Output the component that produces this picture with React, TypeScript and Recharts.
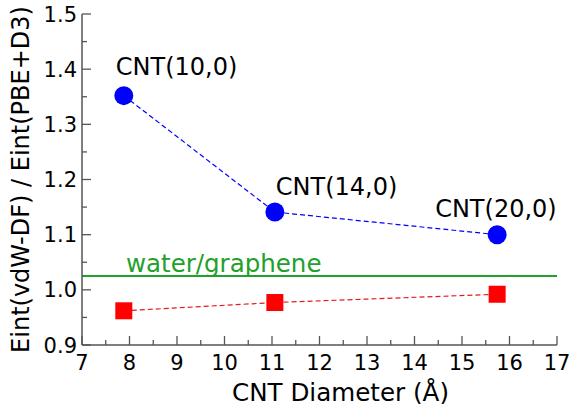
import { Line, LineChart, ReferenceLine, XAxis, YAxis } from 'recharts';

// CNT diameters (Å) and energy ratios
const diameters = [7.88, 11.06, 15.74];
const cntRatio = [1.352, 1.141, 1.1];
const refRatio = [0.962, 0.977, 0.992];
const cntNames = ['CNT(10,0)', 'CNT(14,0)', 'CNT(20,0)'];
const waterGraphene = 1.025;

const xTicks = [7, 7.5, 8, 8.5, 9, 9.5, 10, 10.5, 11, 11.5, 12, 12.5, 13, 13.5, 14, 14.5, 15, 15.5, 16, 16.5, 17];
const yTicks = [0.9, 0.95, 1.0, 1.05, 1.1, 1.15, 1.2, 1.25, 1.3, 1.35, 1.4, 1.45, 1.5];

const data = diameters.map((d, i) => ({ d, cnt: cntRatio[i], ref: refRatio[i] }));

const FONT = '"DejaVu Sans", sans-serif';
const AXIS = '#555';
const GREEN = '#22a02a';
const MAJOR = 9;
const MINOR = 5;
// annotation offsets from each blue marker
const labelOffsets = [
  [-8, -21],
  [1, -17],
  [-62, -18],
];

const isMajorX = (v: number) => Math.abs(v - Math.round(v)) < 1e-6;
const isMajorY = (v: number) => Math.round(v * 100) % 10 === 0;

function BottomTick({ x, y, payload }: any) {
  const major = isMajorX(payload.value);
  return (
    <g>
      <line x1={x} x2={x} y1={y} y2={y - (major ? MAJOR : MINOR)} stroke={AXIS} strokeWidth={1.3} />
      {major && (
        <text x={x} y={y + 25} textAnchor="middle" fontSize={21} fontFamily={FONT} fill="#000">
          {payload.value}
        </text>
      )}
    </g>
  );
}

function TopTick({ x, y, payload }: any) {
  const major = isMajorX(payload.value);
  return <line x1={x} x2={x} y1={y} y2={y + (major ? MAJOR : MINOR)} stroke={AXIS} strokeWidth={1.3} />;
}

function LeftTick({ x, y, payload }: any) {
  const major = isMajorY(payload.value);
  return (
    <g>
      <line x1={x} x2={x + (major ? MAJOR : MINOR)} y1={y} y2={y} stroke={AXIS} strokeWidth={1.3} />
      {major && (
        <text x={x - 5} y={y + 7.5} textAnchor="end" fontSize={21} fontFamily={FONT} fill="#000">
          {Number(payload.value).toFixed(1)}
        </text>
      )}
    </g>
  );
}

function RightTick({ x, y, payload }: any) {
  const major = isMajorY(payload.value);
  return <line x1={x} x2={x - (major ? MAJOR : MINOR)} y1={y} y2={y} stroke={AXIS} strokeWidth={1.3} />;
}

function CntLabel({ x, y, index }: any) {
  const [dx, dy] = labelOffsets[index];
  return (
    <text x={x + dx} y={y + dy} fontSize={24} fontFamily={FONT} fill="#000">
      {cntNames[index]}
    </text>
  );
}

function Square({ cx, cy, index }: any) {
  return <rect key={index} x={cx - 8.5} y={cy - 8.5} width={17} height={17} fill="#ff0000" />;
}

export default function App() {
  return (
    <div style={{ position: 'absolute', left: 0, top: 0, width: 571, height: 408, background: '#fff' }}>
      <LineChart width={571} height={408} data={data} margin={{ top: 14, right: 14, bottom: 0, left: 0 }}>
        <XAxis
          dataKey="d"
          type="number"
          domain={[7, 17]}
          ticks={xTicks}
          interval={0}
          height={63}
          tickSize={0}
          tickMargin={0}
          tickLine={false}
          axisLine={{ stroke: AXIS, strokeWidth: 1.5 }}
          tick={<BottomTick />}
          label={{
            content: ({ viewBox }: any) => (
              <text
                x={viewBox.x + viewBox.width / 2 + 21}
                y={viewBox.y + viewBox.height - 7}
                textAnchor="middle"
                fontSize={24.6}
                fontFamily={FONT}
                fill="#000"
              >
                CNT Diameter (Å)
              </text>
            ),
          }}
        />
        <XAxis
          xAxisId="top"
          orientation="top"
          dataKey="d"
          type="number"
          domain={[7, 17]}
          ticks={xTicks}
          interval={0}
          height={0}
          tickSize={0}
          tickMargin={0}
          tickLine={false}
          axisLine={{ stroke: AXIS, strokeWidth: 1.5 }}
          tick={<TopTick />}
        />
        <YAxis
          type="number"
          domain={[0.9, 1.5]}
          ticks={yTicks}
          interval={0}
          width={82}
          tickSize={0}
          tickMargin={0}
          tickLine={false}
          axisLine={{ stroke: AXIS, strokeWidth: 1.5 }}
          tick={<LeftTick />}
          label={{
            content: ({ viewBox }: any) => {
              const cx = 28.5;
              const cy = viewBox.y + viewBox.height / 2;
              return (
                <text
                  x={cx}
                  y={cy}
                  transform={`rotate(-90, ${cx}, ${cy})`}
                  textAnchor="middle"
                  fontSize={24}
                  fontFamily={FONT}
                  fill="#000"
                >
                  Eint(vdW-DF) / Eint(PBE+D3)
                </text>
              );
            },
          }}
        />
        <YAxis
          yAxisId="right"
          orientation="right"
          type="number"
          domain={[0.9, 1.5]}
          ticks={yTicks}
          interval={0}
          width={0}
          tickSize={0}
          tickMargin={0}
          tickLine={false}
          axisLine={{ stroke: AXIS, strokeWidth: 1.5 }}
          tick={<RightTick />}
        />
        <ReferenceLine
          y={waterGraphene}
          stroke={GREEN}
          strokeWidth={2}
          label={{
            content: ({ viewBox }: any) => (
              <text x={viewBox.x + 44} y={viewBox.y - 4} fontSize={24.5} fontFamily={FONT} fill={GREEN}>
                water/graphene
              </text>
            ),
          }}
        />
        <Line
          dataKey="ref"
          stroke="#e8191a"
          strokeWidth={1.2}
          strokeDasharray="5 3"
          dot={<Square />}
          isAnimationActive={false}
        />
        <Line
          dataKey="cnt"
          stroke="#0000ff"
          strokeWidth={1.2}
          strokeDasharray="5 3"
          dot={{ r: 9.5, fill: '#0000ff', stroke: 'none' }}
          label={<CntLabel />}
          isAnimationActive={false}
        />
      </LineChart>
    </div>
  );
}
